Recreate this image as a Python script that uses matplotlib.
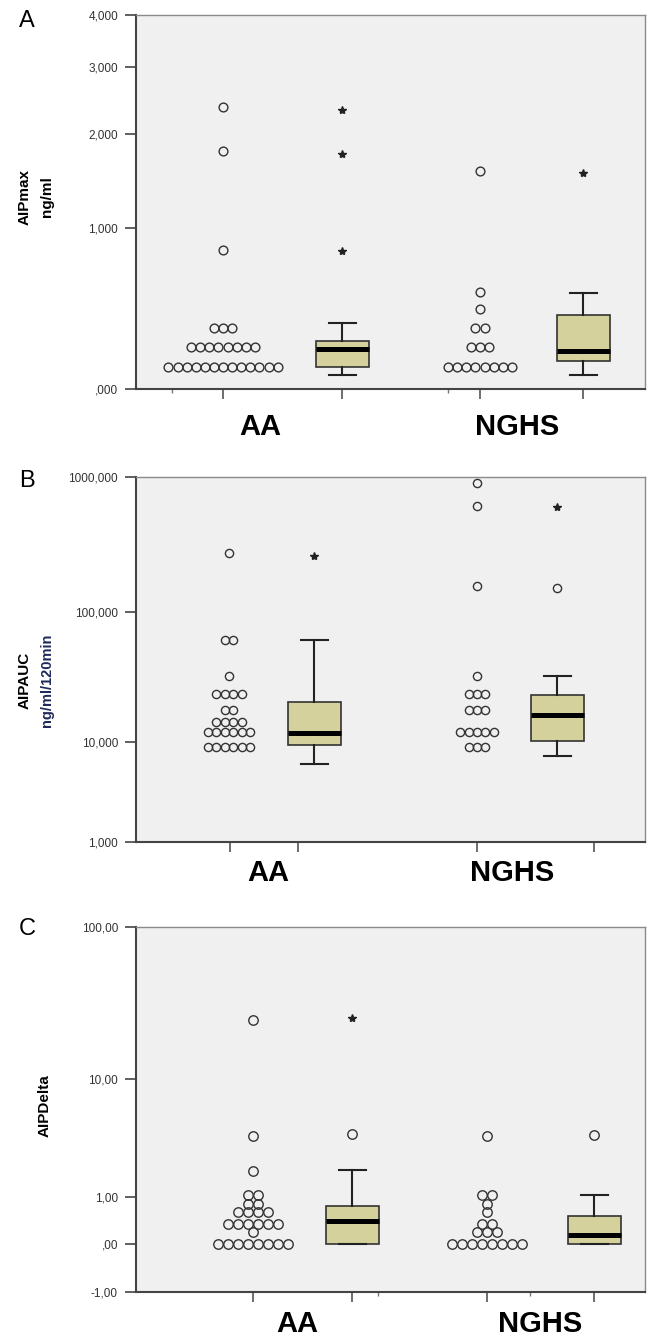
import numpy as np
import matplotlib.pyplot as plt
from matplotlib.ticker import FixedLocator, FixedFormatter, NullLocator

plt.rcParams['font.family'] = ['Liberation Sans', 'DejaVu Sans']

W, H = 647, 1339

# ---- panel A: AIPmax ng/ml ----
a_aa_dot_values = [0.10, 0.20, 0.30, 0.82, 1.78, 2.36]
a_aa_dot_counts = [13, 8, 3, 1, 1, 1]
a_nghs_dot_values = [0.10, 0.20, 0.30, 0.41, 0.52, 1.55]
a_nghs_dot_counts = [8, 3, 2, 1, 1, 1]
a_aa_box = [0.06, 0.10, 0.19, 0.23, 0.33]      # whislo, q1, med, q3, whishi
a_nghs_box = [0.06, 0.13, 0.18, 0.375, 0.51]
a_aa_circles = []
a_aa_stars = [0.81, 1.75, 2.32]
a_nghs_circles = []
a_nghs_stars = [1.53]
a_ticks = [0, 1, 2, 3, 4]
a_ticklabels = [',000', '1,000', '2,000', '3,000', '4,000']

# ---- panel B: AIPAUC ng/ml/120min ----
b_aa_dot_values = [9, 12, 14.5, 18, 24, 33, 61, 275]
b_aa_dot_counts = [6, 6, 4, 2, 4, 1, 2, 1]
b_nghs_dot_values = [9, 12, 18, 24, 33, 155, 612, 902]
b_nghs_dot_counts = [3, 5, 3, 3, 1, 1, 1, 1]
b_aa_box = [6.6, 9.4, 11.9, 20.7, 61]
b_nghs_box = [7.6, 10.2, 16.3, 23.5, 33]
b_aa_circles = []
b_aa_stars = [258]
b_nghs_circles = [149]
b_nghs_stars = [600]
b_ticks = [1, 10, 100, 1000]
b_ticklabels = ['1,000', '10,000', '100,000', '1000,000']

# ---- panel C: AIPDelta ----
c_aa_dot_values = [0, 0.2, 0.35, 0.6, 0.8, 1.05, 1.9, 3.85, 25]
c_aa_dot_counts = [8, 1, 6, 4, 2, 2, 1, 1, 1]
c_nghs_dot_values = [0, 0.2, 0.35, 0.6, 0.8, 1.05, 3.85]
c_nghs_dot_counts = [8, 3, 2, 1, 1, 2, 1]
c_aa_box = [0, 0, 0.40, 0.74, 1.93]
c_nghs_box = [0, 0, 0.145, 0.51, 1.05]
c_aa_circles = [4.0]
c_aa_stars = [25.9]
c_nghs_circles = [3.9]
c_nghs_stars = []
c_ticks = [-1, 0, 1, 10, 100]
c_ticklabels = ['-1,00', ',00', '1,00', '10,00', '100,00']

groups = ['AA', 'NGHS']

BOX_FC = '#d5d19c'
BG = '#f0f0f0'


def fwd(v):
    v = np.asarray(v, dtype=float)
    return np.sign(v) * np.log10(np.abs(v) + 1)


def inv(s):
    s = np.asarray(s, dtype=float)
    return np.sign(s) * (10 ** np.abs(s) - 1)


def dots(ax, x, values, counts, step, ms):
    for v, n in zip(values, counts):
        xs = x + (np.arange(n) - (n - 1) / 2) * step
        ax.plot(xs, [v] * n, 'o', ms=ms, mfc='none', mec='#333333', mew=1.0,
                zorder=3, clip_on=False)


def box(ax, x, stats, circles, stars, ms):
    whislo, q1, med, q3, whishi = stats
    st = [dict(whislo=whislo, q1=q1, med=med, q3=q3, whishi=whishi, fliers=[])]
    ax.bxp(st, positions=[x], widths=53, capwidths=27, patch_artist=True,
           showfliers=False, manage_ticks=False,
           boxprops=dict(facecolor=BOX_FC, edgecolor='#333333', linewidth=1.2),
           medianprops=dict(color='black', linewidth=3.6),
           whiskerprops=dict(color='#222222', linewidth=1.5),
           capprops=dict(color='#222222', linewidth=1.5))
    if circles:
        ax.plot([x] * len(circles), circles, 'o', ms=ms, mfc='none',
                mec='#333333', mew=1.0, zorder=3)
    if stars:
        ax.plot([x] * len(stars), stars, '*', ms=6, color='#222222', zorder=3)


def panel(top, bottom, ylim, ticks, ticklabels, pos, xt, xt_minor, data, step, ms):
    ax = fig.add_axes([136 / W, 1 - bottom / H, 509 / W, (bottom - top) / H])
    ax.set_facecolor(BG)
    ax.set_yscale('function', functions=(fwd, inv))
    ax.set_ylim(*ylim)
    ax.set_xlim(0, 509)
    ax.yaxis.set_major_locator(FixedLocator(ticks))
    ax.yaxis.set_major_formatter(FixedFormatter(ticklabels))
    ax.yaxis.set_minor_locator(NullLocator())
    ax.set_xticks(xt)
    ax.set_xticklabels([''] * len(xt))
    ax.set_xticks(xt_minor, minor=True)
    ax.tick_params(axis='y', length=8, width=1.2, color='#444444',
                   labelsize=8.5, labelcolor='#333333', pad=5)
    ax.tick_params(axis='x', which='major', length=7, width=1.2, color='#555555')
    ax.tick_params(axis='x', which='minor', length=3, width=1.0, color='#777777')
    for s in ['left', 'bottom']:
        ax.spines[s].set_color('#444444')
        ax.spines[s].set_linewidth(1.5)
    for s in ['top', 'right']:
        ax.spines[s].set_color('#8a8a8a')
        ax.spines[s].set_linewidth(1.0)
    (aa_v, aa_c, ng_v, ng_c, aa_box, ng_box, aa_ci, aa_st, ng_ci, ng_st) = data
    dots(ax, pos[0], aa_v, aa_c, step, ms)
    box(ax, pos[1], aa_box, aa_ci, aa_st, ms)
    dots(ax, pos[2], ng_v, ng_c, step, ms)
    box(ax, pos[3], ng_box, ng_ci, ng_st, ms)
    return ax


fig = plt.figure(figsize=(W / 100, H / 100), dpi=100)

panel(15, 389, (0, 4), a_ticks, a_ticklabels, [87, 206, 344, 447],
      [87, 206, 344, 447], [36, 312],
      (a_aa_dot_values, a_aa_dot_counts, a_nghs_dot_values, a_nghs_dot_counts,
       a_aa_box, a_nghs_box, a_aa_circles, a_aa_stars, a_nghs_circles, a_nghs_stars),
      9.1, 6.3)
panel(477, 842, (1, 1000), b_ticks, b_ticklabels, [93, 178, 341, 421],
      [94, 162, 341, 458], [],
      (b_aa_dot_values, b_aa_dot_counts, b_nghs_dot_values, b_nghs_dot_counts,
       b_aa_box, b_nghs_box, b_aa_circles, b_aa_stars, b_nghs_circles, b_nghs_stars),
      8.4, 5.9)
panel(927, 1292, (-1, 100), c_ticks, c_ticklabels, [117, 216, 351, 458],
      [117, 216, 351, 458], [242, 394],
      (c_aa_dot_values, c_aa_dot_counts, c_nghs_dot_values, c_nghs_dot_counts,
       c_aa_box, c_nghs_box, c_aa_circles, c_aa_stars, c_nghs_circles, c_nghs_stars),
      9.9, 6.8)


def ftext(x, y, s, **kw):
    fig.text(x / W, 1 - y / H, s, **kw)


# group labels under each panel
for (xa, xn, y) in [(260, 517, 427), (268, 512, 873), (297, 540, 1324)]:
    ftext(xa, y, groups[0], ha='center', va='center', fontsize=21, fontweight='bold')
    ftext(xn, y, groups[1], ha='center', va='center', fontsize=21, fontweight='bold')

# y axis titles
ftext(25, 197, 'AIPmax', rotation=90, ha='center', va='center', fontsize=11, fontweight='bold')
ftext(47, 197, 'ng/ml', rotation=90, ha='center', va='center', fontsize=11, fontweight='bold')
ftext(25, 680, 'AIPAUC', rotation=90, ha='center', va='center', fontsize=11, fontweight='bold')
ftext(47, 680, 'ng/ml/120min', rotation=90, ha='center', va='center', fontsize=10.5,
      fontweight='bold', color='#1f2a5c')
ftext(45, 1106, 'AIPDelta', rotation=90, ha='center', va='center', fontsize=11, fontweight='bold')

# panel letters
ftext(19, 10, 'A', ha='left', va='top', fontsize=17)
ftext(19, 470, 'B', ha='left', va='top', fontsize=17)
ftext(19, 918, 'C', ha='left', va='top', fontsize=17)

fig.savefig('out.png', dpi=100)
